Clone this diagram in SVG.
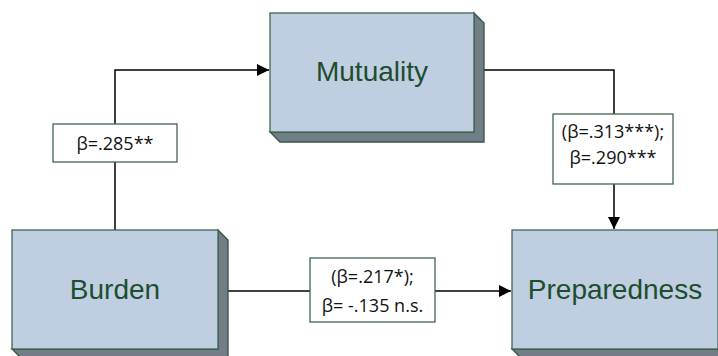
<svg xmlns="http://www.w3.org/2000/svg" width="718" height="356" viewBox="0 0 718 356">
<defs>
<style>
.face{fill:#BFCFE1;stroke:#3F6650;stroke-width:1.3}
.side{fill:#737D88;stroke:#2F5540;stroke-width:1.3}
.ntxt{font-family:"Liberation Sans",Arial,sans-serif;font-size:28px;fill:#1E4D2E;text-anchor:middle}
.lbox{fill:#ffffff;stroke:#3F6650;stroke-width:1.3}
.ltxt{font-family:"Open Sans","Liberation Sans",sans-serif;font-size:18px;fill:#111;text-anchor:middle}
.conn{fill:none;stroke:#000;stroke-width:1.5}
</style>
<marker id="arr" viewBox="0 0 10 10" refX="10" refY="5" markerWidth="12" markerHeight="12" markerUnits="userSpaceOnUse" orient="auto">
<path d="M0,0 L10,5 L0,10 Z" fill="#000"/>
</marker>
</defs>
<g id="connectors">
<path class="conn" d="M115,230 V70 H269" marker-end="url(#arr)"/>
<path class="conn" d="M484,70 H614 V229" marker-end="url(#arr)"/>
<path class="conn" d="M228,291 H511" marker-end="url(#arr)"/>
</g>
<g id="mutuality">
<polygon class="side" points="474,13 484,23 484,142 280,142 270,132 474,132"/>
<rect class="face" x="270" y="13" width="204" height="119"/>
<text class="ntxt" x="372" y="81">Mutuality</text>
</g>
<g id="burden">
<polygon class="side" points="218,230 228,240 228,359 22,359 12,349 218,349"/>
<rect class="face" x="12" y="230" width="206" height="119"/>
<text class="ntxt" x="115" y="299">Burden</text>
</g>
<g id="preparedness">
<polygon class="side" points="718,230 728,240 728,359 522,359 512,349 718,349"/>
<rect class="face" x="512" y="230" width="206" height="119"/>
<text class="ntxt" x="615" y="299">Preparedness</text>
</g>
<g id="label-bm">
<rect class="lbox" x="53" y="124" width="124" height="38"/>
<text class="ltxt" x="115" y="150">β=.285**</text>
</g>
<g id="label-mp">
<rect class="lbox" x="553" y="114" width="120" height="70"/>
<text class="ltxt" x="613" y="138">(β=.313***);</text>
<text class="ltxt" x="613" y="164">β=.290***</text>
</g>
<g id="label-bp">
<rect class="lbox" x="310" y="258" width="125" height="64"/>
<text class="ltxt" x="372.5" y="283">(β=.217*);</text>
<text class="ltxt" x="372.5" y="312">β= -.135 n.s.</text>
</g>
</svg>
